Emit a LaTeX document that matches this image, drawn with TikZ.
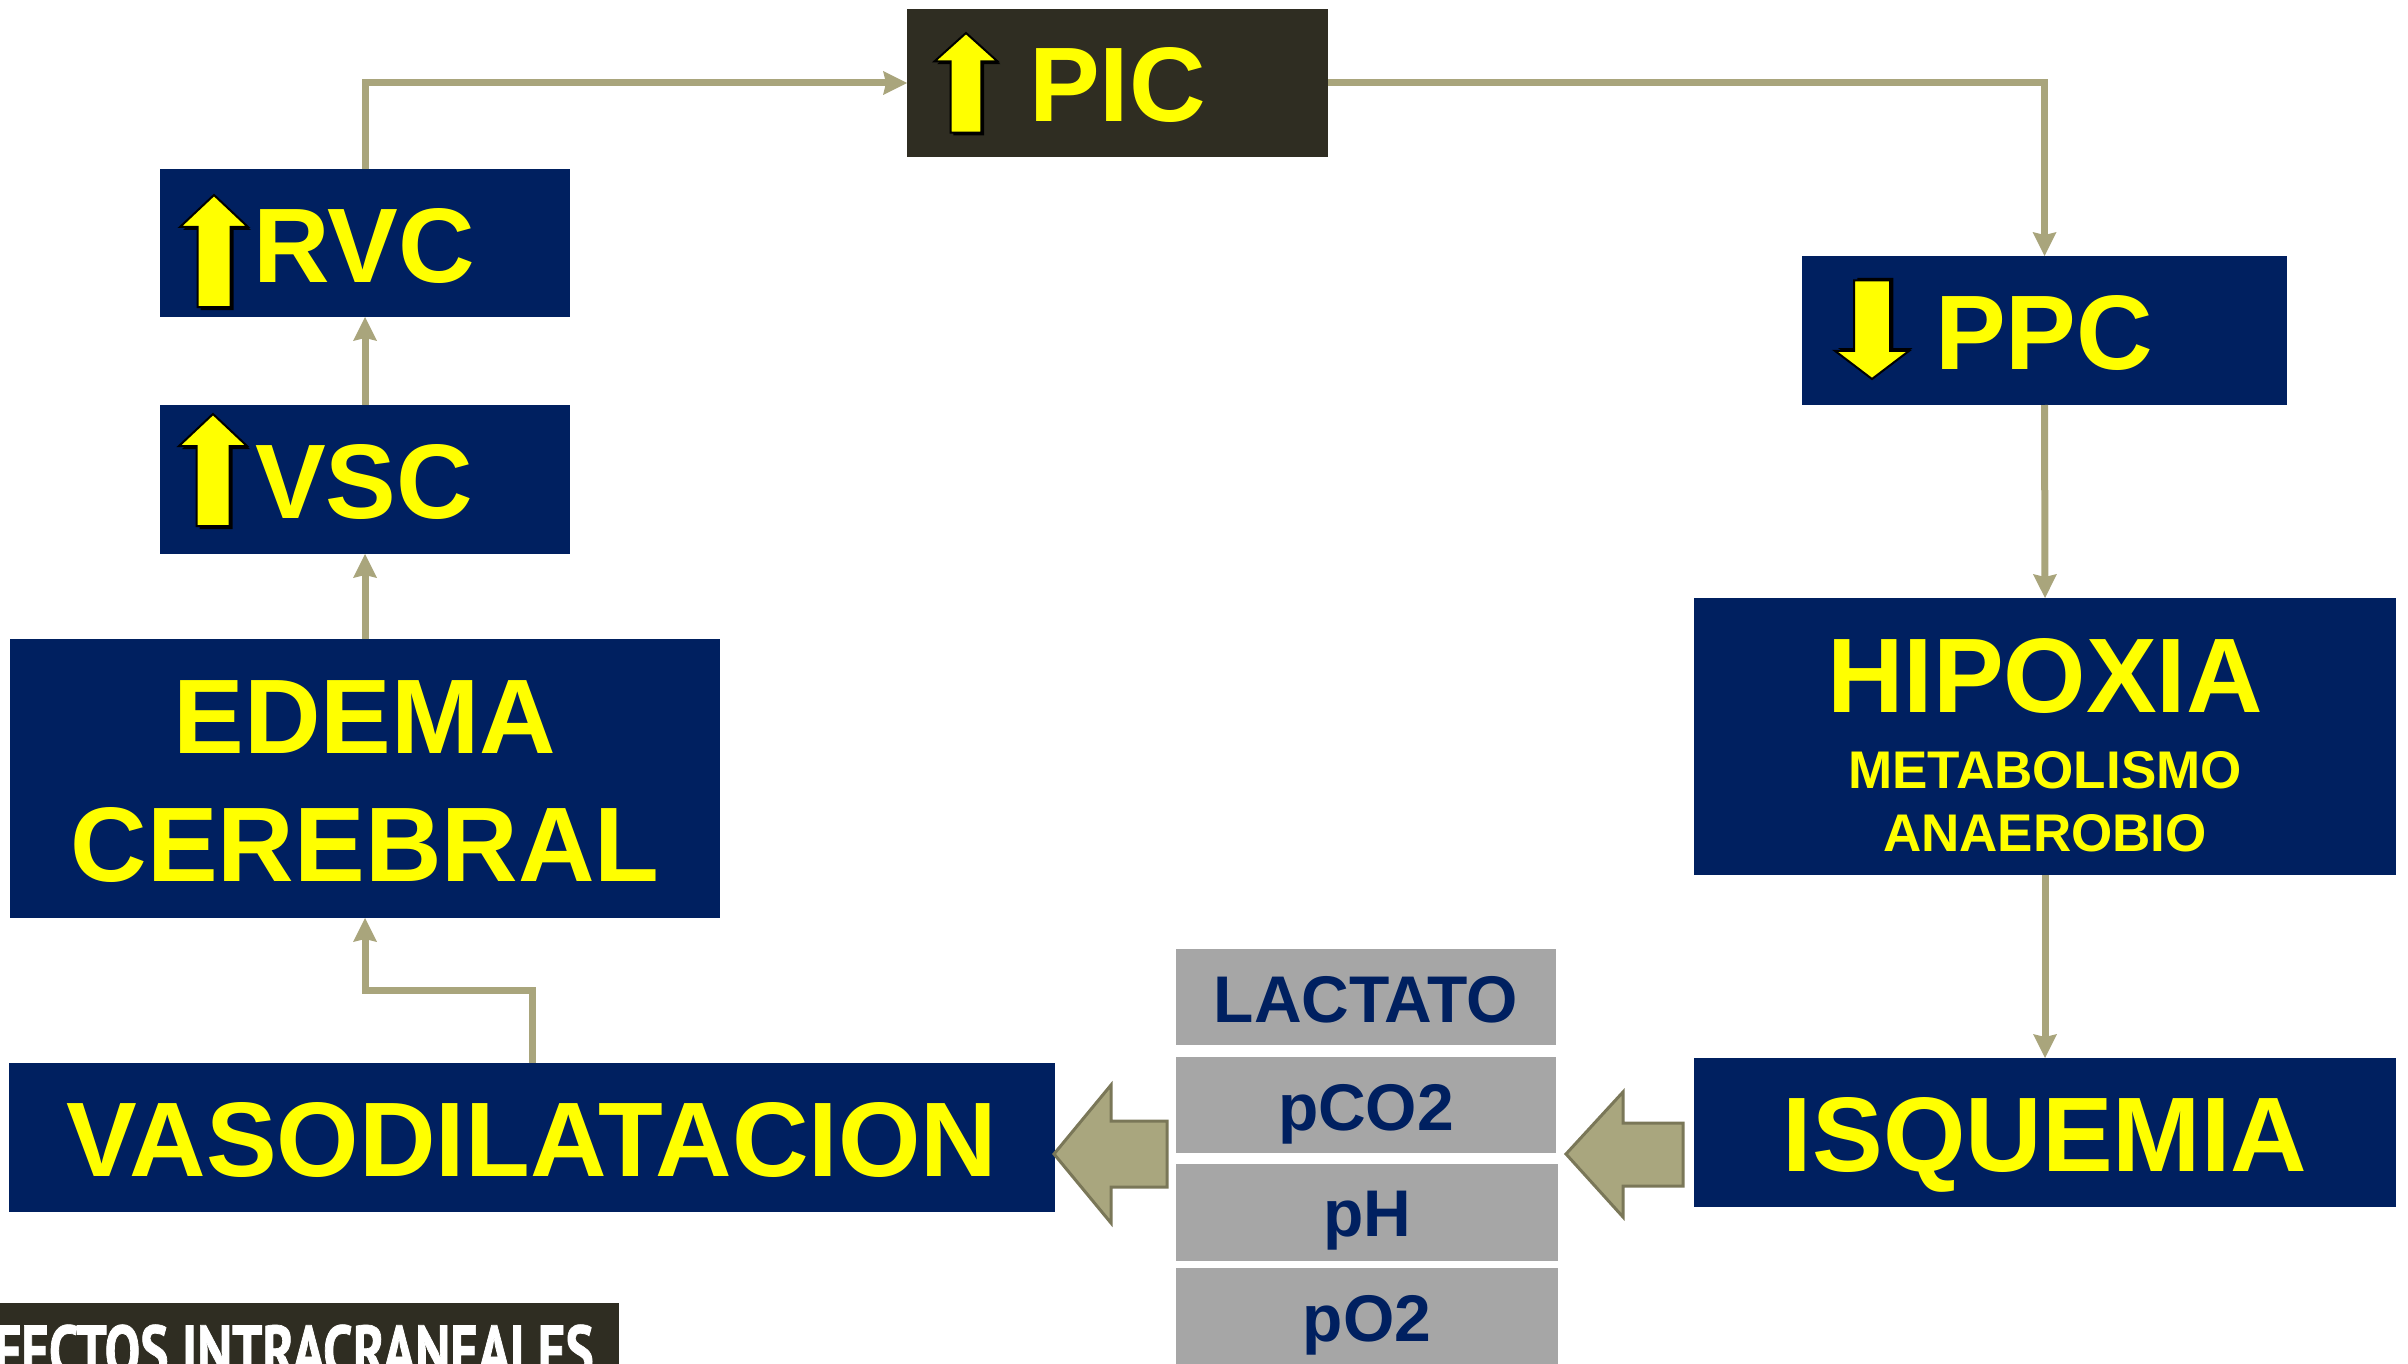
\documentclass[tikz,border=0pt]{standalone}
\usepackage{fontspec}
\setmainfont{Liberation Sans}
\newfontfamily\footfont[FakeStretch=0.74,FakeBold=1]{PT Sans}
\usetikzlibrary{arrows.meta}
\definecolor{navy}{RGB}{0,32,96}
\definecolor{darkbox}{RGB}{47,45,34}
\definecolor{conncol}{RGB}{169,165,124}
\definecolor{graybox}{RGB}{166,166,166}
\definecolor{blockedge}{RGB}{122,119,88}
\definecolor{blockfill}{RGB}{169,166,126}
\definecolor{ylw}{RGB}{255,255,0}
\tikzset{
  box/.style={inner sep=0pt, outer sep=0pt, draw=none},
  navybox/.style={box, fill=navy},
  darkbx/.style={box, fill=darkbox},
  graybx/.style={box, fill=graybox},
  bigtxt/.style={text=ylw, font=\fontsize{106}{120}\selectfont\bfseries, inner sep=0pt, anchor=base},
  midtxt/.style={text=ylw, font=\fontsize{53}{60}\selectfont\bfseries, inner sep=0pt, anchor=base},
  graytxt/.style={text=navy, font=\fontsize{66}{70}\selectfont\bfseries, inner sep=0pt, anchor=base},
  conn/.style={draw=conncol, line width=7pt, -{Stealth[length=24pt,width=24pt,inset=3pt,line width=0pt]}},
  blockarrow/.style={fill=blockfill, draw=blockedge, line width=3pt, line join=miter},
  yarrow/.pic={
    \fill[black, shift={(3,3)}] (0,0) -- (34,32) -- (16.5,32) -- (16.5,112) -- (-16.5,112) -- (-16.5,32) -- (-34,32) -- cycle;
    \filldraw[fill=ylw, draw=black, line width=2pt, line join=miter] (0,0) -- (34,32) -- (16.5,32) -- (16.5,112) -- (-16.5,112) -- (-16.5,32) -- (-34,32) -- cycle;
  }
}
\begin{document}
\begin{tikzpicture}[x=1pt, y=-1pt]
\useasboundingbox (0,0) rectangle (2408,1364);
% boxes
\node[darkbx, minimum width=421pt, minimum height=148pt] (pic) at (1117.5,83) {};
\node[navybox, minimum width=410pt, minimum height=148pt] (rvc) at (365,243) {};
\node[navybox, minimum width=410pt, minimum height=149pt] (vsc) at (365,479.5) {};
\node[navybox, minimum width=710pt, minimum height=279pt] (edema) at (365,778.5) {};
\node[navybox, minimum width=1046pt, minimum height=149pt] (vaso) at (532,1137.5) {};
\node[navybox, minimum width=485pt, minimum height=149pt] (ppc) at (2044.5,330.5) {};
\node[navybox, minimum width=702pt, minimum height=277pt] (hip) at (2045,736.5) {};
\node[navybox, minimum width=702pt, minimum height=149pt] (isq) at (2045,1132.5) {};
\node[graybx, minimum width=380pt, minimum height=96pt] (lact) at (1366,997) {};
\node[graybx, minimum width=380pt, minimum height=96pt] (pco) at (1366,1105) {};
\node[graybx, minimum width=382pt, minimum height=97pt] (ph) at (1367,1212.5) {};
\node[graybx, minimum width=382pt, minimum height=102pt] (po) at (1367,1319) {};
\node[darkbx, minimum width=619pt, minimum height=67pt] (foot) at (309.5,1336.5) {};
% yellow arrows
\pic at (966,33) [xscale=0.93, yscale=0.89] {yarrow};
\pic at (214,195) {yarrow};
\pic at (213,414) {yarrow};
\pic at (1872,379) [xscale=1.09, yscale=-0.88] {yarrow};
% texts
\node[bigtxt, anchor=base west] (tpic) at (1029,122) {PIC};
\node[bigtxt, anchor=base west] (trvc) at (253,283) {RVC};
\node[bigtxt, anchor=base west] (tvsc) at (255,518) {VSC};
\node[bigtxt, anchor=base west] (tppc) at (1935,369) {PPC};
\node[bigtxt] (tedema) at (365,753) {EDEMA};
\node[bigtxt] (tcereb) at (365,881) {CEREBRAL};
\node[bigtxt] (thip) at (2045,712) {HIPOXIA};
\node[midtxt] (tmet) at (2045,788) {METABOLISMO};
\node[midtxt] (tana) at (2045,851) {ANAEROBIO};
\node[bigtxt] (tisq) at (2045,1171) {ISQUEMIA};
\node[bigtxt] (tvaso) at (532,1176) {VASODILATACION};
\node[graytxt] (tlact) at (1366,1022) {LACTATO};
\node[graytxt] (tpco) at (1366,1130) {pCO2};
\node[graytxt] (tph) at (1367,1236) {pH};
\node[graytxt] (tpo) at (1367,1341) {pO2};
\node[anchor=base east, inner sep=0pt, text=white, font=\footfont\bfseries\fontsize{72}{80}\selectfont] (tfoot) at (594,1376) {EFECTOS INTRACRANEALES};
% connectors
\draw[conn] (rvc.north) |- (pic.west);
\draw[conn] (pic.east) -| (ppc.north);
\draw[conn] (ppc.south) -- (hip.north);
\draw[conn] (hip.south) -- (isq.north);
\draw[conn] (vsc.north) -- (rvc.south);
\draw[conn] (edema.north) -- (vsc.south);
\coordinate (bend) at (365,990);
\draw[conn] (vaso.north) |- (bend) -- (edema.south);
% block arrows
\draw[blockarrow] (1054,1154) -- (1111,1085) -- (1111,1121) -- (1167,1121) -- (1167,1187) -- (1111,1187) -- (1111,1223) -- cycle;
\draw[blockarrow] (1566,1154) -- (1623,1092) -- (1623,1123) -- (1683,1123) -- (1683,1186) -- (1623,1186) -- (1623,1217) -- cycle;
\end{tikzpicture}
\end{document}
